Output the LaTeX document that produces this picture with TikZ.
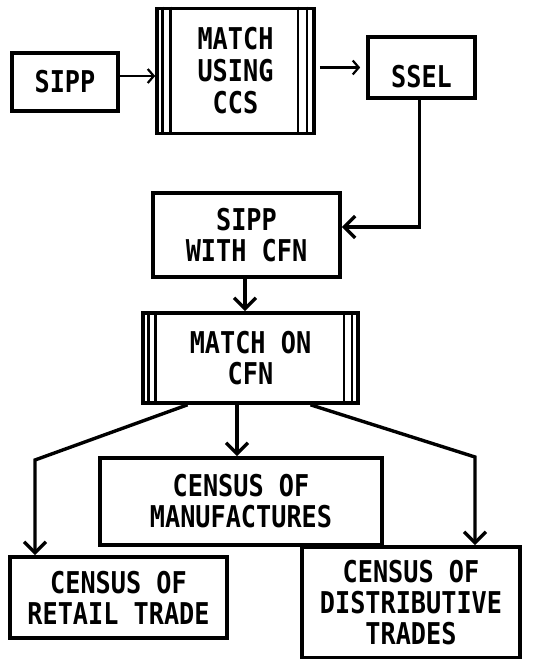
\documentclass[tikz,border=0pt]{standalone}
\usepackage{fontspec}
\newfontfamily\handfont[FakeStretch=0.84]{DejaVu Sans Mono}
\usetikzlibrary{arrows.meta}
\begin{document}
\begin{tikzpicture}[x=1pt,y=-1pt,
  box/.style={draw, line width=3.6pt, inner sep=0pt, align=center,
    font=\handfont\bfseries\fontsize{30}{31}\selectfont},
  edge/.style={draw, line width=3.4pt},
  inline/.style={draw, line width=2.6pt},
  bigarrow/.style={edge, -{Straight Barb[length=11pt,width=22pt,line width=3.4pt]}},
  toparrow/.style={draw, line width=2.2pt, -{Straight Barb[length=6pt,width=14pt,line width=2.2pt]}}
]
\fill[white] (0,0) rectangle (552,659);
\useasboundingbox (0,0) rectangle (552,659);

\node[box, minimum width=106pt, minimum height=58pt] (sipp) at (65,82) {SIPP};
\node[box, minimum width=157pt, minimum height=125pt] (ccs) at (235.5,71) {\raisebox{-4pt}[\height][\depth]{\begin{tabular}{@{}c@{}}MATCH\\USING\\CCS\end{tabular}}};
\node[box, minimum width=107pt, minimum height=61pt] (ssel) at (421.5,67.5) {\raisebox{-9pt}[\height][\depth]{SSEL}};
\node[box, minimum width=187pt, minimum height=84pt] (cfn) at (246.5,235) {SIPP\\WITH CFN};
\node[box, minimum width=215pt, minimum height=90pt] (mcfn) at (250.5,358) {MATCH ON\\CFN};
\node[box, minimum width=282pt, minimum height=87pt] (manu) at (241,501.5) {CENSUS OF\\MANUFACTURES};
\node[box, minimum width=217pt, minimum height=81pt] (retail) at (118.5,597.5) {CENSUS OF\\RETAIL TRADE};
\node[box, minimum width=218pt, minimum height=111pt] (dist) at (411,602.5) {CENSUS OF\\DISTRIBUTIVE\\TRADES};

% extra vertical lines of the matching boxes
\foreach \d in {7,15} {
  \draw[inline] ([xshift=\d pt]ccs.north west) -- ([xshift=\d pt]ccs.south west);
}
\foreach \d in {9,18} {
  \draw[inline] ([xshift=-\d pt]ccs.north east) -- ([xshift=-\d pt]ccs.south east);
}
\foreach \d in {7,14} {
  \draw[inline] ([xshift=\d pt]mcfn.north west) -- ([xshift=\d pt]mcfn.south west);
}
\foreach \d in {8,16} {
  \draw[inline] ([xshift=-\d pt]mcfn.north east) -- ([xshift=-\d pt]mcfn.south east);
}

% connectors
\draw[toparrow] ([yshift=6pt]sipp.east) -- ([yshift=6pt]sipp.east -| ccs.west);
\draw[toparrow, shorten <=4pt, shorten >=6pt] (ccs.east |- ssel.west) -- (ssel.west);
\draw[bigarrow] ([xshift=-2pt]ssel.south) |- ([yshift=8pt]cfn.east);
\draw[bigarrow] ([xshift=-1.5pt]cfn.south) -- ([xshift=-1.5pt]cfn.south |- mcfn.north);

\coordinate (bendL) at (35,460);
\coordinate (bendR) at (475,457);
\draw[bigarrow] ([xshift=-63pt]mcfn.south) -- (bendL) -- (bendL |- retail.north);
\draw[bigarrow] ([xshift=-4pt]manu.north |- mcfn.south) -- ([xshift=-4pt]manu.north);
\draw[bigarrow] ([xshift=60pt]mcfn.south) -- (bendR) -- (bendR |- dist.north);
\end{tikzpicture}
\end{document}
